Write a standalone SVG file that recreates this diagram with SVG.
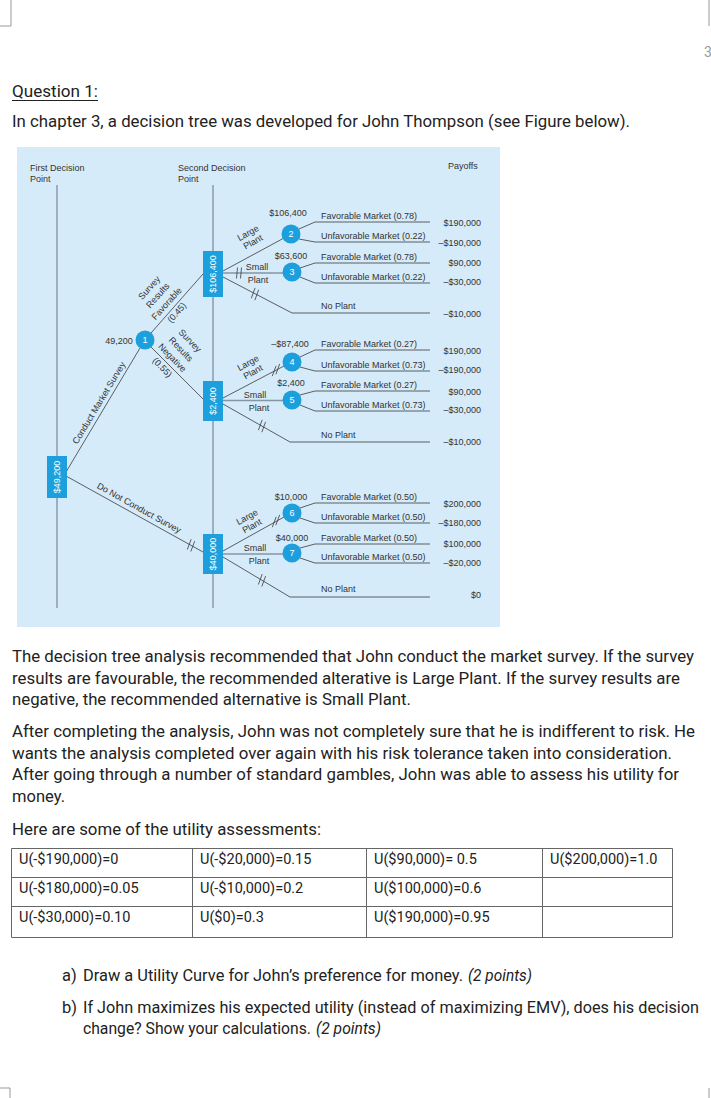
<svg xmlns="http://www.w3.org/2000/svg" width="711" height="1098" viewBox="0 0 711 1098">
<style>
.pg{font-family:Roboto,"Liberation Sans",sans-serif;font-size:16.5px;fill:#222}
.it{font-style:italic}
.tb{font-family:Roboto,"Liberation Sans",sans-serif;font-size:14.5px;fill:#222}
.d{font-family:"Liberation Sans",Arial,sans-serif;font-size:9px;fill:#333}
.w{font-family:"Liberation Sans",Arial,sans-serif;font-size:9px;fill:#fff;text-anchor:middle}
.m{text-anchor:middle}
.e{text-anchor:end}
.ln{stroke:#3a3a3a;stroke-width:0.8;fill:none}
.sm{stroke:#8595a3;stroke-width:1.6;fill:none}
.gd{stroke:#9eaebe;stroke-width:2;fill:none}
.bx{fill:#1c9fdc}
.cr{fill:#1c9fdc}
.tk{stroke:#3a3a3a;stroke-width:0.8;fill:none}
.bd{stroke:#666;stroke-width:1;fill:none}
.cm{stroke:#999;stroke-width:1;fill:none}
</style>
<rect width="711" height="1098" fill="#fff"/>
<g id="page-marks">
<path class="cm" d="M11 0V26H0M709 0V26M0 1088H10V1098M709 1088V1098"/>
<text x="704" y="57" font-family="Roboto,sans-serif" font-size="14" fill="#999">3</text>
</g>
<g id="header">
<text class="pg" x="12" y="97" textLength="86" lengthAdjust="spacingAndGlyphs">Question 1:</text>
<line x1="12" y1="100.5" x2="98" y2="100.5" stroke="#222" stroke-width="1"/>
<text class="pg" x="12" y="127" textLength="618" lengthAdjust="spacingAndGlyphs">In chapter 3, a decision tree was developed for John Thompson (see Figure below).</text>
</g>
<rect id="figure-bg" x="17" y="147" width="483" height="480" fill="#d6ebf9"/>
<g id="labels-top">
<text class="d" x="30" y="171">First Decision</text>
<text class="d" x="30" y="182">Point</text>
<text class="d" x="178" y="171">Second Decision</text>
<text class="d" x="178" y="182">Point</text>
<text class="d" x="448" y="169">Payoffs</text>
</g>
<g id="guides">
<line class="gd" x1="57" y1="185" x2="57" y2="608"/>
<line class="gd" x1="213" y1="185" x2="213" y2="608"/>
</g>
<g id="connectors">
<path class="ln" d="M66 472L140 348M66 476L203 552M151 333L203 274M151 347L203 399"/>
<path class="ln" d="M223 271L284 238M223 277L292 313H430M299 229L315 222H430M299 239L315 242H430M300 268L315 263H430M300 277L315 283H430"/>
<path class="sm" d="M223 273H283"/>
<path class="ln" d="M223 398L284 366M223 404L290 442H430M300 357L315 350H430M300 367L315 371H430M300 395L315 391H430M300 405L315 411H430"/>
<path class="sm" d="M223 400.5H283"/>
<path class="ln" d="M223 551L284 517M223 557L290 597H430M300 508L315 503H430M300 518L315 523H430M300 548L315 544H430M300 558L315 563H430"/>
<path class="sm" d="M223 554H283"/>
<path class="tk" d="M236.5 278.5L237.5 267.5M240.5 278.5L241.5 267.5M251.3 298.3L255.1 287.9M254.9 300.1L258.7 289.7M272.3 376.1L276.1 365.8M275.9 374.3L279.7 363.9M258.4 430.2L262.2 419.8M261.8 432.2L265.6 421.8M272.3 527.2L276.2 516.8M275.8 525.2L279.7 514.8M258.4 584.5L262.2 574.1M261.8 586.5L265.6 576.1M187.3 549.5L191.2 539.2M190.8 551.5L194.7 541.2"/>
</g>
<g id="edge-labels">
<text class="d m" transform="translate(99 403) rotate(-59)" y="3">Conduct Market Survey</text>
<text class="d m" transform="translate(139 508) rotate(29)" y="3">Do Not Conduct Survey</text>
<text class="d m" transform="rotate(-48)"><tspan x="-114" y="306.5">Survey</tspan><tspan x="-114" y="318">Results</tspan><tspan x="-114" y="330">Favorable</tspan><tspan x="-114" y="343.5">(0.45)</tspan></text>
<text class="d m" transform="rotate(46)"><tspan x="377" y="103">Survey</tspan><tspan x="377" y="115.5">Results</tspan><tspan x="377" y="127.5">Negative</tspan><tspan x="377" y="141.5">(0.55)</tspan></text>
<text class="d m" transform="translate(248 233) rotate(-29)" y="3">Large</text>
<text class="d m" transform="translate(253 242) rotate(-29)" y="3">Plant</text>
<text class="d m" transform="translate(248 363) rotate(-29)" y="3">Large</text>
<text class="d m" transform="translate(253 372) rotate(-29)" y="3">Plant</text>
<text class="d m" transform="translate(247 517) rotate(-29)" y="3">Large</text>
<text class="d m" transform="translate(252 526) rotate(-29)" y="3">Plant</text>
<text class="d m" x="257" y="270">Small</text>
<text class="d m" x="258" y="283">Plant</text>
<text class="d m" x="255" y="398">Small</text>
<text class="d m" x="259" y="411">Plant</text>
<text class="d m" x="255" y="551">Small</text>
<text class="d m" x="259" y="564">Plant</text>
<text class="d" x="321" y="219">Favorable Market (0.78)</text>
<text class="d" x="321" y="239">Unfavorable Market (0.22)</text>
<text class="d" x="321" y="260">Favorable Market (0.78)</text>
<text class="d" x="321" y="280">Unfavorable Market (0.22)</text>
<text class="d" x="321" y="309">No Plant</text>
<text class="d" x="321" y="347">Favorable Market (0.27)</text>
<text class="d" x="321" y="368">Unfavorable Market (0.73)</text>
<text class="d" x="321" y="388">Favorable Market (0.27)</text>
<text class="d" x="321" y="408">Unfavorable Market (0.73)</text>
<text class="d" x="321" y="438">No Plant</text>
<text class="d" x="321" y="500">Favorable Market (0.50)</text>
<text class="d" x="321" y="520">Unfavorable Market (0.50)</text>
<text class="d" x="321" y="541">Favorable Market (0.50)</text>
<text class="d" x="321" y="560">Unfavorable Market (0.50)</text>
<text class="d" x="321" y="592">No Plant</text>
</g>
<g id="payoffs">
<text class="d e" x="481" y="226">$190,000</text>
<text class="d e" x="481" y="246">–$190,000</text>
<text class="d e" x="481" y="266">$90,000</text>
<text class="d e" x="481" y="285">–$30,000</text>
<text class="d e" x="481" y="317">–$10,000</text>
<text class="d e" x="481" y="354">$190,000</text>
<text class="d e" x="481" y="373">–$190,000</text>
<text class="d e" x="481" y="395">$90,000</text>
<text class="d e" x="481" y="413">–$30,000</text>
<text class="d e" x="481" y="445">–$10,000</text>
<text class="d e" x="481" y="507">$200,000</text>
<text class="d e" x="481" y="526">–$180,000</text>
<text class="d e" x="481" y="547">$100,000</text>
<text class="d e" x="481" y="566">–$20,000</text>
<text class="d e" x="481" y="598">$0</text>
</g>
<g id="node-A"><rect class="bx" x="47" y="456" width="20" height="42"/><text class="w" transform="translate(57 477) rotate(-90)" y="3.2">$49,200</text></g>
<g id="node-B"><rect class="bx" x="203" y="251" width="20" height="46"/><text class="w" transform="translate(213 274) rotate(-90)" y="3.2">$106,400</text></g>
<g id="node-C"><rect class="bx" x="203" y="381" width="20" height="40"/><text class="w" transform="translate(213 401) rotate(-90)" y="3.2">$2,400</text></g>
<g id="node-D"><rect class="bx" x="203" y="534" width="20" height="40"/><text class="w" transform="translate(213 554) rotate(-90)" y="3.2">$40,000</text></g>
<g id="node-1"><circle class="cr" cx="145" cy="340" r="9.5"/><text class="w" x="145" y="343.2">1</text><text class="d m" x="119" y="344">49,200</text></g>
<g id="node-2"><circle class="cr" cx="291" cy="234" r="9.5"/><text class="w" x="291" y="237.2">2</text><text class="d m" x="288" y="216">$106,400</text></g>
<g id="node-3"><circle class="cr" cx="292" cy="272" r="9.5"/><text class="w" x="292" y="275.2">3</text><text class="d m" x="291" y="259">$63,600</text></g>
<g id="node-4"><circle class="cr" cx="292" cy="362" r="9.5"/><text class="w" x="292" y="365.2">4</text><text class="d m" x="290" y="347">–$87,400</text></g>
<g id="node-5"><circle class="cr" cx="292" cy="400" r="9.5"/><text class="w" x="292" y="403.2">5</text><text class="d m" x="291" y="386">$2,400</text></g>
<g id="node-6"><circle class="cr" cx="292" cy="513" r="9.5"/><text class="w" x="292" y="516.2">6</text><text class="d m" x="291" y="500">$10,000</text></g>
<g id="node-7"><circle class="cr" cx="292" cy="553" r="9.5"/><text class="w" x="292" y="556.2">7</text><text class="d m" x="292" y="541">$40,000</text></g>
<g id="body-text">
<text class="pg" x="12" y="662" textLength="682" lengthAdjust="spacingAndGlyphs">The decision tree analysis recommended that John conduct the market survey. If the survey</text>
<text class="pg" x="12" y="683.5" textLength="668" lengthAdjust="spacingAndGlyphs">results are favourable, the recommended alterative is Large Plant. If the survey results are</text>
<text class="pg" x="12" y="705" textLength="399" lengthAdjust="spacingAndGlyphs">negative, the recommended alternative is Small Plant.</text>
<text class="pg" x="12" y="737" textLength="683" lengthAdjust="spacingAndGlyphs">After completing the analysis, John was not completely sure that he is indifferent to risk. He</text>
<text class="pg" x="12" y="758.5" textLength="660" lengthAdjust="spacingAndGlyphs">wants the analysis completed over again with his risk tolerance taken into consideration.</text>
<text class="pg" x="12" y="780" textLength="667" lengthAdjust="spacingAndGlyphs">After going through a number of standard gambles, John was able to assess his utility for</text>
<text class="pg" x="12" y="801.5" textLength="53" lengthAdjust="spacingAndGlyphs">money.</text>
<text class="pg" x="12" y="835" textLength="309" lengthAdjust="spacingAndGlyphs">Here are some of the utility assessments:</text>
</g>
<g id="utility-table">
<path class="bd" d="M11.5 848.5H672.5V937.5H11.5ZM11.5 877.5H672.5M11.5 906.5H672.5M192.5 848.5V937.5M366.5 848.5V937.5M542.5 848.5V937.5"/>
<text class="tb" x="19" y="864">U(-$190,000)=0</text>
<text class="tb" x="200" y="864">U(-$20,000)=0.15</text>
<text class="tb" x="374" y="864">U($90,000)= 0.5</text>
<text class="tb" x="550" y="864">U($200,000)=1.0</text>
<text class="tb" x="19" y="893">U(-$180,000)=0.05</text>
<text class="tb" x="200" y="893">U(-$10,000)=0.2</text>
<text class="tb" x="374" y="893">U($100,000)=0.6</text>
<text class="tb" x="19" y="922">U(-$30,000)=0.10</text>
<text class="tb" x="200" y="922">U($0)=0.3</text>
<text class="tb" x="374" y="922">U($190,000)=0.95</text>
</g>
<g id="questions">
<text class="pg" x="62" y="981">a)</text>
<text class="pg" x="83" y="981" textLength="380" lengthAdjust="spacingAndGlyphs">Draw a Utility Curve for John’s preference for money.</text>
<text class="pg it" x="468" y="981" textLength="64" lengthAdjust="spacingAndGlyphs">(2 points)</text>
<text class="pg" x="62" y="1013">b)</text>
<text class="pg" x="83" y="1013" textLength="616" lengthAdjust="spacingAndGlyphs">If John maximizes his expected utility (instead of maximizing EMV), does his decision</text>
<text class="pg" x="83" y="1034" textLength="228" lengthAdjust="spacingAndGlyphs">change? Show your calculations.</text>
<text class="pg it" x="316" y="1034" textLength="65" lengthAdjust="spacingAndGlyphs">(2 points)</text>
</g>
</svg>
